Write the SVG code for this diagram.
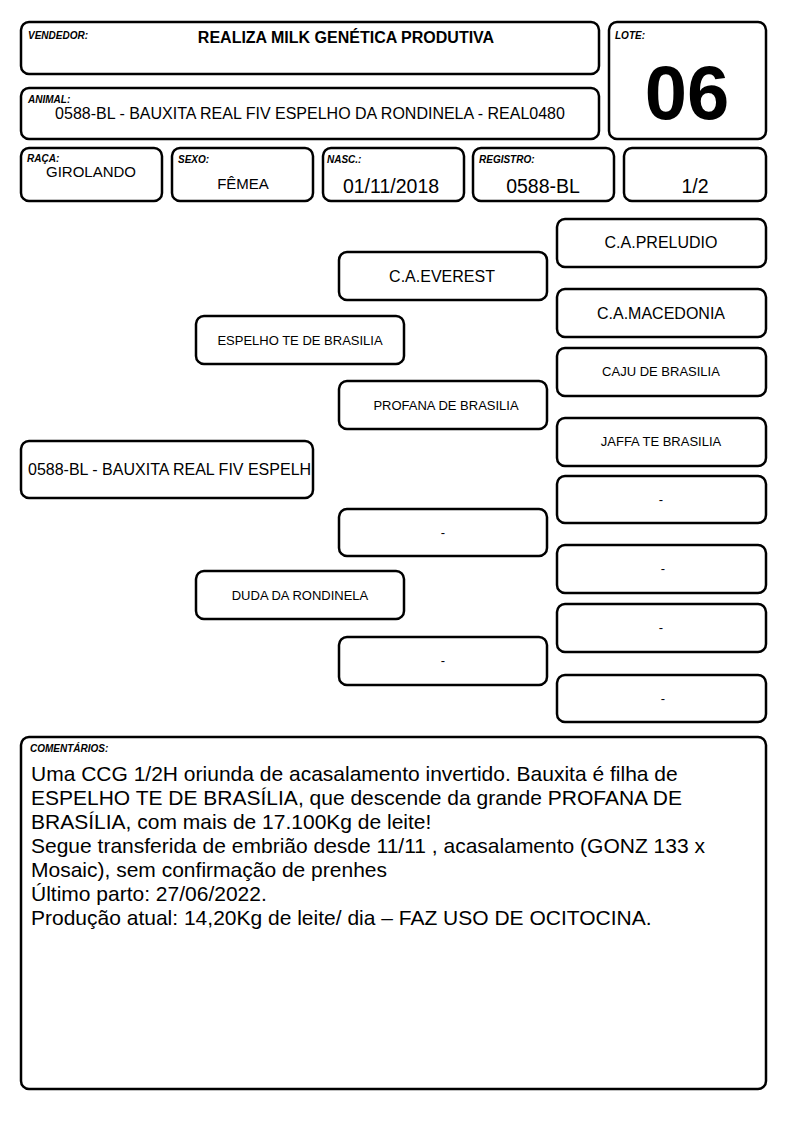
<svg xmlns="http://www.w3.org/2000/svg" width="794" height="1123" viewBox="0 0 794 1123">
<style>
.b{fill:#fff;stroke:#000;stroke-width:2.5}
.lab{font-family:"Liberation Sans",Arial,sans-serif;font-size:10px;font-weight:bold;font-style:italic}
.t{font-family:"Liberation Sans",Arial,sans-serif;fill:#000}
.c{text-anchor:middle}
.m{font-size:16px}
.s{font-size:13px}
.d{font-size:19.5px}
</style>
<rect width="794" height="1123" fill="#fff"/>
<g id="vendedor"><rect class="b" x="21" y="22" width="578" height="52" rx="8"/><text class="lab" x="28" y="39">VENDEDOR:</text><text class="t c" x="346" y="43" font-size="16" font-weight="bold">REALIZA MILK GENÉTICA PRODUTIVA</text></g>
<g id="animal"><rect class="b" x="21" y="88" width="578" height="51" rx="8"/><text class="lab" x="28" y="103">ANIMAL:</text><text class="t c m" x="310" y="119">0588-BL - BAUXITA REAL FIV ESPELHO DA RONDINELA - REAL0480</text></g>
<g id="lote"><rect class="b" x="609" y="22" width="157" height="117" rx="8"/><text class="lab" x="615" y="39">LOTE:</text><text class="t c" x="687" y="119" font-size="76" font-weight="bold">06</text></g>
<g id="raca"><rect class="b" x="21" y="148" width="141" height="53" rx="8"/><text class="lab" x="27" y="162">RAÇA:</text><text class="t c" x="91" y="177" font-size="15">GIROLANDO</text></g>
<g id="sexo"><rect class="b" x="172" y="148" width="141" height="53" rx="8"/><text class="lab" x="178" y="163">SEXO:</text><text class="t c" x="243" y="189" font-size="15">FÊMEA</text></g>
<g id="nasc"><rect class="b" x="323" y="148" width="141" height="53" rx="8"/><text class="lab" x="327" y="163">NASC.:</text><text class="t c d" x="391" y="193">01/11/2018</text></g>
<g id="registro"><rect class="b" x="473" y="148" width="141" height="53" rx="8"/><text class="lab" x="479" y="163">REGISTRO:</text><text class="t c d" x="543" y="193">0588-BL</text></g>
<g id="grau"><rect class="b" x="624" y="148" width="142" height="53" rx="8"/><text class="t c d" x="695" y="193">1/2</text></g>
<g id="connectors"></g>
<g id="p0"><rect class="b" x="21" y="441" width="292" height="57" rx="8"/><text class="t m" x="28" y="475">0588-BL - BAUXITA REAL FIV ESPELH</text></g>
<g id="p1"><rect class="b" x="196" y="316" width="208" height="48" rx="8"/><text class="t c s" x="300" y="345">ESPELHO TE DE BRASILIA</text></g>
<g id="p2"><rect class="b" x="196" y="571" width="208" height="48" rx="8"/><text class="t c s" x="300" y="600">DUDA DA RONDINELA</text></g>
<g id="p3"><rect class="b" x="339" y="252" width="208" height="48" rx="8"/><text class="t c m" x="442" y="282">C.A.EVEREST</text></g>
<g id="p4"><rect class="b" x="339" y="381" width="208" height="48" rx="8"/><text class="t c s" x="446" y="410">PROFANA DE BRASILIA</text></g>
<g id="p5"><rect class="b" x="339" y="509" width="208" height="47" rx="8"/><text class="t c s" x="443" y="537">-</text></g>
<g id="p6"><rect class="b" x="339" y="637" width="208" height="48" rx="8"/><text class="t c s" x="443" y="665">-</text></g>
<g id="p7"><rect class="b" x="557" y="219" width="209" height="48" rx="8"/><text class="t c m" x="661" y="248">C.A.PRELUDIO</text></g>
<g id="p8"><rect class="b" x="557" y="289" width="209" height="48" rx="8"/><text class="t c m" x="661" y="319">C.A.MACEDONIA</text></g>
<g id="p9"><rect class="b" x="557" y="348" width="209" height="48" rx="8"/><text class="t c s" x="661" y="376">CAJU DE BRASILIA</text></g>
<g id="p10"><rect class="b" x="557" y="418" width="209" height="48" rx="8"/><text class="t c s" x="661" y="446">JAFFA TE BRASILIA</text></g>
<g id="p11"><rect class="b" x="557" y="476" width="209" height="47" rx="8"/><text class="t c s" x="661" y="504">-</text></g>
<g id="p12"><rect class="b" x="557" y="545" width="209" height="48" rx="8"/><text class="t c s" x="663" y="573">-</text></g>
<g id="p13"><rect class="b" x="557" y="604" width="209" height="48" rx="8"/><text class="t c s" x="661" y="632">-</text></g>
<g id="p14"><rect class="b" x="557" y="675" width="209" height="47" rx="8"/><text class="t c s" x="663" y="703">-</text></g>
<g id="comentarios"><rect class="b" x="21" y="737" width="745" height="352" rx="8"/><text class="lab" x="30" y="752">COMENTÁRIOS:</text>
<text class="t" font-size="21"><tspan x="31" y="781">Uma CCG 1/2H oriunda de acasalamento invertido. Bauxita é filha de</tspan><tspan x="31" y="805">ESPELHO TE DE BRASÍLIA, que descende da grande PROFANA DE</tspan><tspan x="31" y="829">BRASÍLIA, com mais de 17.100Kg de leite!</tspan><tspan x="31" y="853">Segue transferida de embrião desde 11/11 , acasalamento (GONZ 133 x</tspan><tspan x="31" y="877">Mosaic), sem confirmação de prenhes</tspan><tspan x="31" y="901">Último parto: 27/06/2022.</tspan><tspan x="31" y="925">Produção atual: 14,20Kg de leite/ dia – FAZ USO DE OCITOCINA.</tspan></text></g>
</svg>
